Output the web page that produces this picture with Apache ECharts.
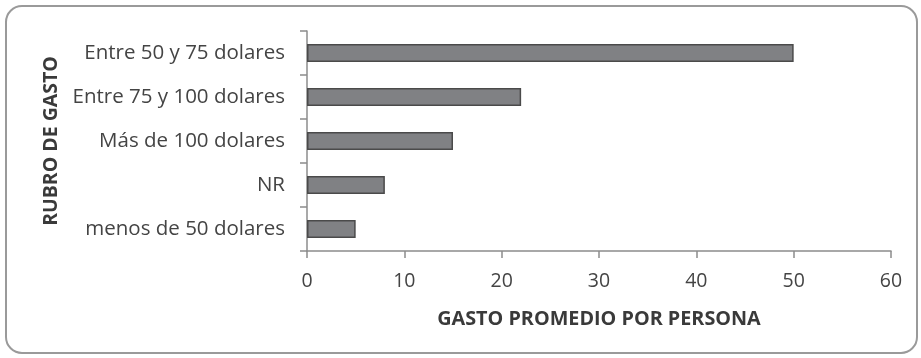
<!DOCTYPE html>
<html>
<head>
<meta charset="utf-8">
<script src="https://cdn.jsdelivr.net/npm/echarts@6/dist/echarts.min.js"></script>
<style>
  html, body { margin: 0; padding: 0; background: #ffffff; }
  #chart { width: 921px; height: 358px; }
</style>
</head>
<body>
<div id="chart"></div>
<script>
// Spending brackets (top to bottom) and average spend per person
const categories = [
  'Entre 50 y 75 dolares',
  'Entre 75 y 100 dolares',
  'Más de 100 dolares',
  'NR',
  'menos de 50 dolares'
];
const values = [50, 22, 15, 8, 5];
const xTicks = { min: 0, max: 60, interval: 10 };

const font = '"Open Sans", "Liberation Sans", sans-serif';
const chart = echarts.init(document.getElementById('chart'), null, { renderer: 'canvas' });

chart.setOption({
  backgroundColor: '#ffffff',
  animation: false,
  graphic: [{
    type: 'rect',
    shape: { x: 6, y: 6, width: 911, height: 347, r: 16 },
    style: { fill: 'none', stroke: '#9a9a9a', lineWidth: 2 },
    silent: true
  }],
  grid: { left: 307, right: 30, top: 31, bottom: 107, containLabel: false },
  xAxis: {
    type: 'value',
    min: xTicks.min,
    max: xTicks.max,
    interval: xTicks.interval,
    name: 'GASTO PROMEDIO POR PERSONA',
    nameLocation: 'middle',
    nameGap: 58,
    nameTextStyle: { fontFamily: font, fontSize: 19.8, fontWeight: 'bold', color: '#3a3a3a' },
    axisLine: { show: true, lineStyle: { color: '#8c8c8c', width: 1.5 } },
    axisTick: { show: true, length: 7, lineStyle: { color: '#8c8c8c', width: 1.5 } },
    axisLabel: { fontFamily: font, fontSize: 19.5, color: '#444444', margin: 20 },
    splitLine: { show: false }
  },
  yAxis: {
    type: 'category',
    data: categories,
    inverse: true,
    name: 'RUBRO DE GASTO',
    nameLocation: 'middle',
    nameGap: 243,
    nameRotate: 90,
    nameTextStyle: { fontFamily: font, fontSize: 19.5, fontWeight: 'bold', color: '#3a3a3a' },
    axisLine: { show: true, lineStyle: { color: '#8c8c8c', width: 1.5 } },
    axisTick: { show: true, length: 7, lineStyle: { color: '#8c8c8c', width: 1.5 } },
    axisLabel: { fontFamily: font, fontSize: 20.5, color: '#444444', margin: 22 }
  },
  series: [{
    type: 'bar',
    data: values,
    barWidth: 18,
    itemStyle: { color: '#808184', borderColor: '#4a4a4a', borderWidth: 1.5 }
  }]
});
</script>
</body>
</html>
